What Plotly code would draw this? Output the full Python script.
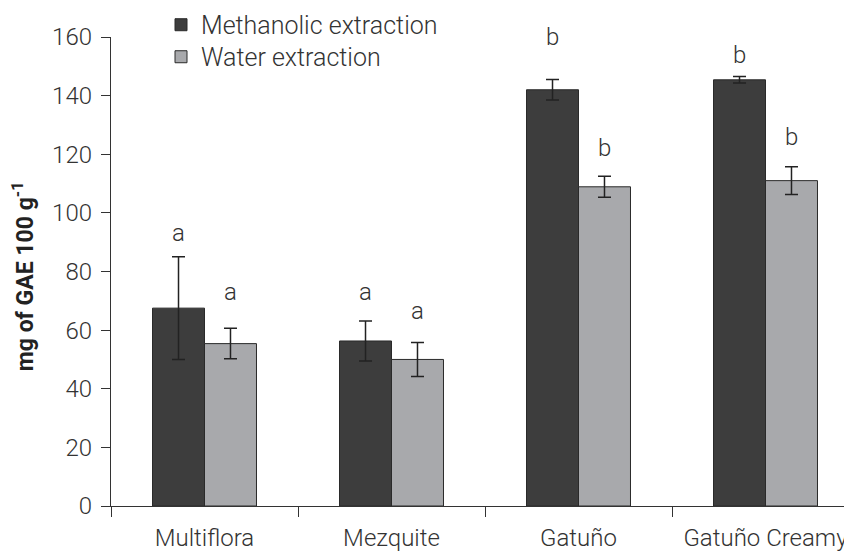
import plotly.graph_objects as go

categories = ["Multiflora", "Mezquite", "Gatuño", "Gatuño Creamy"]
series_names = ["Methanolic extraction", "Water extraction"]
methanolic = [67.5, 56.3, 142.0, 145.4]
methanolic_err = [17.5, 6.8, 3.5, 1.1]
water = [55.4, 50.0, 108.9, 111.0]
water_err = [5.2, 5.8, 3.6, 4.7]
methanolic_letters = ["a", "a", "b", "b"]
water_letters = ["a", "a", "b", "b"]
methanolic_letter_y = [93.0, 73.0, 160.0, 154.0]
water_letter_y = [73.0, 66.5, 122.2, 126.0]
y_ticks = [0, 20, 40, 60, 80, 100, 120, 140, 160]
y_title = "mg of GAE 100 g<sup>-1</sup>"

FONT = "Roboto Light, Roboto"
TXT = "#333333"
OFF = 8  # page body margin in the browser
W, H = 852 - OFF, 552 - OFF
L, R, T, B = 111 - OFF, 0, 37 - OFF, 552 - 505.7
cat_px = 187.0
plot_w = W - L - R
plot_h = H - T - B
x_max = -0.5 + plot_w / cat_px

fig = go.Figure()
fig.add_trace(go.Bar(
    name=series_names[0], x=categories, y=methanolic,
    marker=dict(color="#3d3d3d", line=dict(color="#2a2a2a", width=1)),
    error_y=dict(type="data", array=methanolic_err, visible=True,
                 color="#222222", thickness=1.5, width=6.5),
    legend="legend",
))
fig.add_trace(go.Bar(
    name=series_names[1], x=categories, y=water,
    marker=dict(color="#a8a9ac", line=dict(color="#2a2a2a", width=1)),
    error_y=dict(type="data", array=water_err, visible=True,
                 color="#222222", thickness=1.5, width=6.5),
    legend="legend2",
))

annotations = []
offset = 0.5 * (1 - 0.444) / 2  # half of one bar width in category units
for i, c in enumerate(categories):
    annotations.append(dict(x=i - offset, y=methanolic_letter_y[i], xref="x", yref="y",
                            text=methanolic_letters[i], showarrow=False,
                            font=dict(family=FONT, size=24, color=TXT, weight=300)))
    annotations.append(dict(x=i + offset, y=water_letter_y[i], xref="x", yref="y",
                            text=water_letters[i], showarrow=False,
                            font=dict(family=FONT, size=24, color=TXT, weight=300)))

# y-axis title as rotated text, centred at screen (23, 276)
annotations.append(dict(
    x=(23 - OFF - L) / plot_w, y=1 - (276 - OFF - T) / plot_h,
    xref="paper", yref="paper", text=y_title, showarrow=False, textangle=-90,
    xanchor="center", yanchor="middle",
    font=dict(family="Roboto", size=23, color="#222222", weight=700),
))

legend_common = dict(
    xref="paper", yref="paper", xanchor="left", yanchor="top",
    bgcolor="rgba(0,0,0,0)", borderwidth=0,
    font=dict(family=FONT, size=25, color=TXT, weight=300),
)
leg_x = (153 - L) / plot_w

fig.update_layout(
    width=W, height=H,
    margin=dict(l=L, r=R, t=T, b=B, pad=0, autoexpand=False),
    paper_bgcolor="white", plot_bgcolor="white",
    barmode="group", bargap=0.444, bargroupgap=0,
    font=dict(family=FONT, size=24, color=TXT, weight=300),
    showlegend=True,
    legend=dict(x=leg_x, y=1 + (T + 6) / plot_h, **legend_common),
    legend2=dict(x=leg_x, y=1 + (T - 26) / plot_h, **legend_common),
    xaxis=dict(
        range=[-0.5, x_max], showgrid=False, zeroline=False,
        showline=True, linecolor="#333333", linewidth=1.3,
        ticks="outside", tickson="boundaries", ticklen=10,
        tickcolor="#333333", tickwidth=1.3, tickangle=0, automargin=False,
        ticklabelstandoff=10,
        tickfont=dict(family=FONT, size=24, color=TXT, weight=300),
        fixedrange=True,
    ),
    yaxis=dict(
        range=[0, 160], tickvals=y_ticks, showgrid=False, zeroline=False,
        showline=True, linecolor="#333333", linewidth=1.3, automargin=False,
        ticks="outside", ticklen=9, tickcolor="#333333", tickwidth=1.3,
        ticklabelstandoff=4,
        tickfont=dict(family=FONT, size=24, color=TXT, weight=300),
        fixedrange=True,
    ),
    annotations=annotations,
)

fig.write_html("out.html")
